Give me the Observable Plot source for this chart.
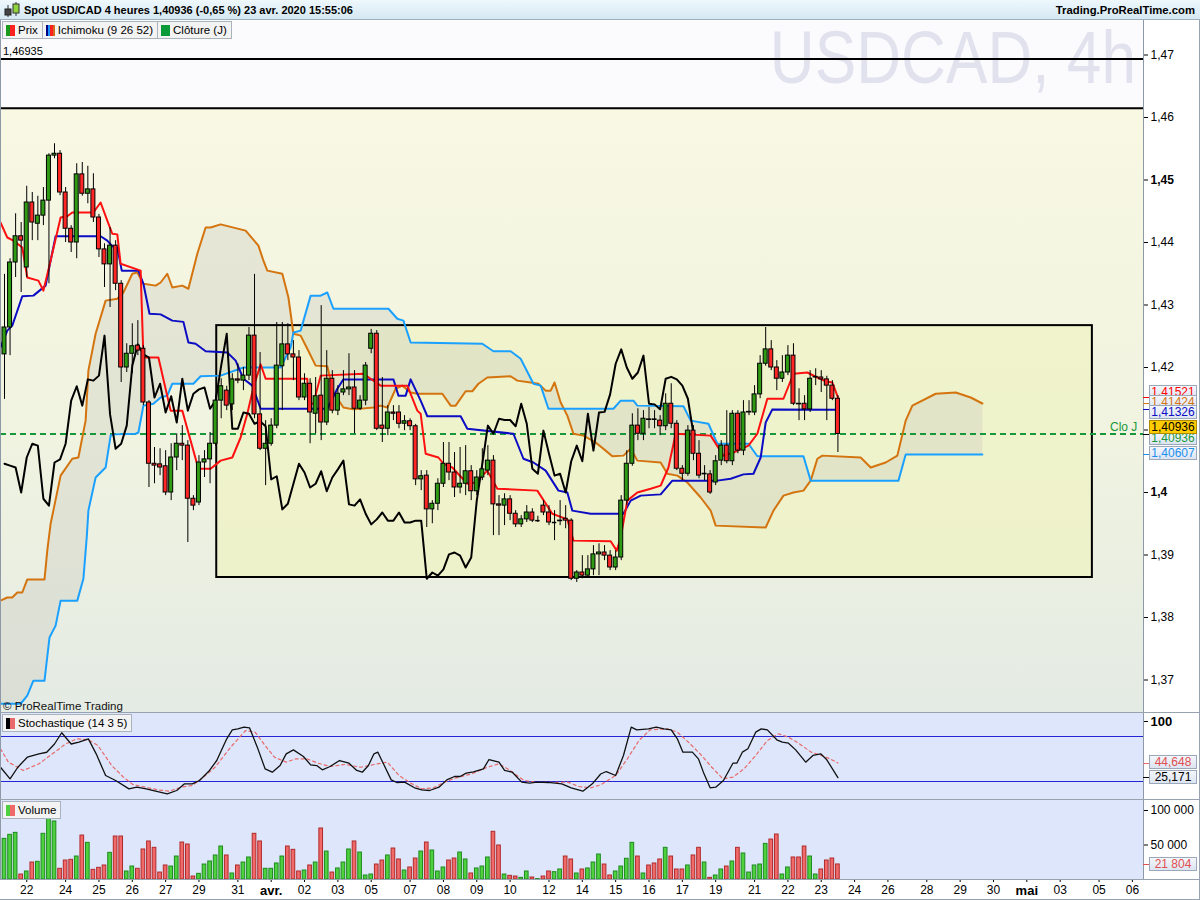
<!DOCTYPE html>
<html><head><meta charset="utf-8">
<script src="https://cdn.jsdelivr.net/npm/d3@7"></script>
<script src="https://cdn.jsdelivr.net/npm/@observablehq/plot@0.6"></script>
<style>
html,body{margin:0;padding:0;background:#fff;}
#root{position:relative;width:1200px;height:900px;overflow:hidden;background:#fff;font-family:"Liberation Sans",Arial,Helvetica,sans-serif;font-size:12px;color:#000;}
.a{position:absolute;}
.a svg{display:block;}
.legrow{position:absolute;display:flex;}
.legend{height:16px;line-height:16px;border:1px solid #a9b3bd;background:#f3f3f3;padding:0 4px 0 3px;font-size:11.5px;white-space:nowrap;margin-right:-1px;}
.sw{display:inline-block;width:9px;height:11px;vertical-align:-2px;margin-right:3px;}
.vbox{position:absolute;left:1149px;width:46px;height:12px;line-height:12px;border:1px solid #9aa8ba;background:linear-gradient(#f4f7fc,#dce4f1);font-size:12px;text-align:center;}
.tk{position:absolute;left:1143px;width:6px;height:1px;}
</style></head>
<body><div id="root"></div>
<script>
// ---------------- DATA ----------------
const title = "Spot USD/CAD 4 heures 1,40936 (-0,65 %) 23 avr. 2020 15:55:06";
const site = "Trading.ProRealTime.com";
const watermark = "USDCAD, 4h";
const legendItems = ["Prix", "Ichimoku (9 26 52)", "Clôture (J)"];

const opens = [1.4221,1.4264,1.4368,1.4410,1.4360,1.4464,1.4430,1.4443,1.4467,1.4539,
1.4542,1.4480,1.4422,1.4400,1.4509,1.4478,1.4485,1.4440,1.4389,1.4365,
1.4395,1.4334,1.4200,1.4222,1.4235,1.4230,1.4144,1.4046,1.4045,1.4042,
1.4000,1.4056,1.4078,1.4075,1.3990,1.3984,1.4048,1.4053,1.4078,1.4147,
1.4163,1.4141,1.4181,1.4179,1.4187,1.4251,1.4125,1.4070,1.4078,1.4107,
1.4202,1.4237,1.4221,1.4216,1.4152,1.4174,1.4126,1.4155,1.4112,1.4182,
1.4131,1.4160,1.4165,1.4168,1.4134,1.4147,1.4230,1.4254,1.4107,1.4102,
1.4128,1.4128,1.4110,1.4114,1.4106,1.4021,1.4027,1.3973,1.3982,1.4014,
1.4046,1.4032,1.4008,1.4014,1.4034,1.4002,1.4024,1.4035,1.4051,1.3981,
1.3979,1.3989,1.3966,1.3949,1.3957,1.3968,1.3955,1.3979,1.3968,1.3952,
1.3954,1.3958,1.3955,1.3862,1.3872,1.3867,1.3877,1.3901,1.3904,1.3899,
1.3880,1.3896,1.3987,1.4046,1.4107,1.4094,1.4117,1.4117,1.4115,1.4106,
1.4142,1.4110,1.4038,1.4030,1.4099,1.4062,1.4029,1.4029,1.4016,1.4051,
1.4075,1.4050,1.4126,1.4067,1.4128,1.4128,1.4157,1.4206,1.4229,1.4200,
1.4182,1.4192,1.4219,1.4142,1.4142,1.4133,1.4184,1.4184,1.4181,1.4171,
1.4150];
const highs = [1.4349,1.4374,1.4446,1.4432,1.4490,1.4480,1.4474,1.4488,1.4542,1.4558,
1.4547,1.4488,1.4427,1.4526,1.4528,1.4522,1.4510,1.4445,1.4398,1.4424,
1.4403,1.4339,1.4238,1.4270,1.4275,1.4235,1.4147,1.4072,1.4070,1.4067,
1.4078,1.4094,1.4107,1.4083,1.3995,1.4059,1.4067,1.4096,1.4155,1.4182,
1.4170,1.4190,1.4206,1.4200,1.4264,1.4349,1.4224,1.4115,1.4118,1.4272,
1.4272,1.4270,1.4243,1.4227,1.4190,1.4182,1.4184,1.4299,1.4227,1.4195,
1.4171,1.4195,1.4222,1.4195,1.4155,1.4208,1.4261,1.4259,1.4184,1.4139,
1.4139,1.4139,1.4123,1.4118,1.4109,1.4035,1.4035,1.3987,1.4022,1.4080,
1.4080,1.4064,1.4072,1.4075,1.4043,1.4035,1.4070,1.4075,1.4059,1.3995,
1.3998,1.3995,1.3971,1.3963,1.3979,1.3974,1.3962,1.3987,1.3979,1.3971,
1.3987,1.3979,1.3958,1.3875,1.3899,1.3899,1.3915,1.3918,1.3915,1.3907,
1.3907,1.3995,1.4067,1.4126,1.4134,1.4131,1.4136,1.4131,1.4123,1.4158,
1.4174,1.4115,1.4043,1.4107,1.4107,1.4083,1.4043,1.4035,1.4059,1.4083,
1.4131,1.4131,1.4131,1.4147,1.4147,1.4171,1.4219,1.4264,1.4243,1.4211,
1.4219,1.4235,1.4238,1.4166,1.4155,1.4195,1.4198,1.4195,1.4186,1.4179,
1.4155];
const lows = [1.4149,1.4219,1.4344,1.4320,1.4344,1.4403,1.4403,1.4427,1.4334,1.4534,
1.4475,1.4400,1.4384,1.4374,1.4474,1.4462,1.4432,1.4376,1.4328,1.4296,
1.4323,1.4176,1.4192,1.4190,1.4219,1.4139,1.4008,1.4014,1.4027,1.3995,
1.3987,1.4035,1.4051,1.3920,1.3971,1.3979,1.4024,1.4014,1.4074,1.4118,
1.4131,1.4131,1.4174,1.4163,1.4179,1.4118,1.4067,1.4011,1.4074,1.4102,
1.4131,1.4211,1.4179,1.4147,1.4147,1.4078,1.4094,1.4083,1.4107,1.4126,
1.4123,1.4155,1.4155,1.4094,1.4131,1.4139,1.4222,1.4099,1.4080,1.4091,
1.4115,1.4102,1.4099,1.4099,1.4011,1.4003,1.3944,1.3950,1.3971,1.4008,
1.4019,1.3992,1.3998,1.3995,1.3987,1.3995,1.4019,1.4027,1.3931,1.3931,
1.3947,1.3955,1.3944,1.3944,1.3952,1.3952,1.3952,1.3963,1.3947,1.3923,
1.3947,1.3942,1.3859,1.3856,1.3862,1.3864,1.3867,1.3867,1.3891,1.3875,
1.3875,1.3891,1.3979,1.4042,1.4083,1.4083,1.4102,1.4102,1.4091,1.4099,
1.4102,1.4035,1.4019,1.4026,1.4051,1.4022,1.4019,1.3997,1.4011,1.4043,
1.4046,1.4043,1.4062,1.4059,1.4123,1.4123,1.4150,1.4202,1.4195,1.4163,
1.4176,1.4187,1.4139,1.4115,1.4115,1.4128,1.4171,1.4160,1.4115,1.4147,
1.4064];
const closes = [1.4264,1.4368,1.4410,1.4403,1.4464,1.4432,1.4443,1.4467,1.4539,1.4542,
1.4480,1.4422,1.4400,1.4509,1.4478,1.4485,1.4440,1.4389,1.4365,1.4395,
1.4334,1.4200,1.4222,1.4234,1.4227,1.4144,1.4046,1.4043,1.4040,1.4000,
1.4056,1.4078,1.4075,1.3990,1.3979,1.4048,1.4053,1.4078,1.4147,1.4170,
1.4139,1.4181,1.4179,1.4187,1.4251,1.4125,1.4070,1.4078,1.4107,1.4203,
1.4237,1.4221,1.4216,1.4152,1.4174,1.4128,1.4154,1.4112,1.4182,1.4131,
1.4158,1.4165,1.4168,1.4134,1.4147,1.4203,1.4254,1.4102,1.4102,1.4128,
1.4126,1.4110,1.4114,1.4106,1.4021,1.4026,1.3973,1.3982,1.4014,1.4046,
1.4032,1.4008,1.4014,1.4034,1.4002,1.4024,1.4037,1.4051,1.3981,1.3979,
1.3989,1.3966,1.3949,1.3957,1.3968,1.3955,1.3955,1.3968,1.3952,1.3952,
1.3955,1.3955,1.3862,1.3872,1.3867,1.3877,1.3901,1.3904,1.3899,1.3880,
1.3896,1.3987,1.4046,1.4107,1.4094,1.4118,1.4116,1.4116,1.4106,1.4142,
1.4110,1.4038,1.4030,1.4099,1.4062,1.4027,1.4030,1.4000,1.4050,1.4075,
1.4050,1.4126,1.4067,1.4128,1.4129,1.4157,1.4206,1.4229,1.4200,1.4182,
1.4192,1.4219,1.4142,1.4141,1.4133,1.4182,1.4185,1.4181,1.4171,1.4150,
1.40936];
// volume in thousands
const volumesK = [58.9,64.7,67.6,7.2,11.6,24.6,25.6,66.2,89.4,84.1,
15.5,27.5,28.5,33.3,63.7,53.1,14.0,16.9,20.3,38.6,
62.3,62.3,11.6,18.8,15.5,43.5,55.1,45.9,10.1,20.3,
18.8,33.3,53.6,50.7,4.3,8.2,21.7,26.1,34.8,47.8,
34.8,8.7,20.3,24.6,31.9,66.2,55.1,15.5,15.5,23.2,
33.3,47.8,43.0,11.6,13.0,20.3,24.6,73.9,40.5,10.1,
16.0,24.6,43.5,55.1,39.1,5.8,7.2,21.7,27.5,34.8,
44.9,29.0,13.0,17.4,30.4,40.5,53.6,42.0,11.6,17.4,
27.5,30.4,39.1,29.0,8.7,16.0,18.8,31.9,69.1,49.3,
7.2,5.3,4.3,2.4,11.6,2.9,0.6,4.3,11.6,10.6,
14.5,33.3,29.0,8.7,14.5,16.0,24.6,36.2,21.7,5.8,
11.6,18.8,30.0,53.1,33.3,8.7,20.3,23.2,29.0,45.9,
33.3,14.5,14.5,20.3,34.8,45.9,24.6,2.4,5.8,14.5,
18.8,26.1,45.9,37.7,10.1,20.3,21.7,51.6,57.9,65.2,
7.2,17.4,31.9,31.9,47.8,33.3,7.2,14.5,27.5,30.4,
21.804];

// Ichimoku lines, read as [bar index, price] vertices
const tenkan = [[-0.72,1.4432],[0.5,1.4408],[1.6,1.4403],[3.2,1.4392],[4.1,1.4344],[6.1,1.4339],[7.0,1.4323],[8.3,1.4371],[10.1,1.4440],[11.3,1.4442],[12.2,1.4448],[16.0,1.4448],[17.3,1.4464],[18.5,1.4435],[19.4,1.4414],[20.3,1.4413],[20.9,1.4366],[24.5,1.4355],[25.0,1.4216],[27.7,1.4216],[29.9,1.4131],[32.0,1.4131],[34.9,1.4038],[37.1,1.4038],[38.9,1.4051],[41.0,1.4056],[42.5,1.4088],[43.7,1.4126],[44.8,1.4168],[46.1,1.4205],[47.0,1.4182],[54.5,1.4182],[54.7,1.4142],[55.6,1.4142],[56.9,1.4187],[64.6,1.4190],[65.9,1.4182],[67.7,1.4171],[72.5,1.4171],[74.3,1.4131],[74.9,1.4126],[75.8,1.4062],[78.1,1.4056],[79.0,1.4046],[80.6,1.4040],[83.3,1.4014],[84.8,1.4016],[86.9,1.4035],[88.7,1.4006],[95.9,1.4003],[98.6,1.3966],[101.3,1.3957],[102.4,1.3923],[109.1,1.3922],[110.2,1.3907],[110.9,1.3928],[112.1,1.3987],[113.9,1.4000],[116.3,1.4006],[118.1,1.4011],[119.5,1.4040],[120.8,1.4094],[127.1,1.4091],[129.4,1.4059],[131.2,1.4064],[133.9,1.4075],[135.5,1.4094],[137.3,1.4150],[140.2,1.4150],[142.0,1.4190],[144.5,1.4192],[146.3,1.4184],[147.8,1.4178],[149.0,1.4176],[150.0,1.41521]];
const kijun = [[-0.72,1.4232],[0.5,1.4259],[1.4,1.4267],[3.2,1.4314],[5.2,1.4315],[7.4,1.4331],[8.3,1.4371],[9.2,1.4410],[17.3,1.4410],[18.5,1.4403],[19.4,1.4394],[20.3,1.4392],[21.1,1.4355],[24.1,1.4355],[25.0,1.4334],[26.1,1.4286],[28.1,1.4285],[30.2,1.4275],[32.2,1.4273],[33.1,1.4240],[34.4,1.4238],[36.2,1.4226],[40.1,1.4224],[41.6,1.4211],[43.0,1.4182],[44.6,1.4171],[46.1,1.4134],[58.1,1.4134],[59.9,1.4166],[61.0,1.4181],[70.0,1.4181],[70.9,1.4155],[72.2,1.4155],[73.1,1.4181],[74.9,1.4147],[76.1,1.4122],[82.1,1.4122],[83.3,1.4102],[91.6,1.4094],[93.4,1.4054],[95.2,1.4048],[97.4,1.4035],[99.7,1.4003],[101.3,1.4000],[102.2,1.3971],[105.5,1.3966],[111.4,1.3966],[112.7,1.3987],[114.5,1.3995],[118.1,1.3997],[120.2,1.4019],[128.3,1.4019],[130.7,1.4022],[133.0,1.4029],[134.8,1.4030],[136.1,1.4056],[137.0,1.4112],[138.2,1.4133],[150.0,1.41326]];
const spanA = [[-0.72,1.3827],[0.5,1.3832],[1.4,1.3832],[2.3,1.3840],[3.2,1.3840],[4.1,1.3861],[7.2,1.3861],[7.7,1.3907],[8.3,1.3950],[10.1,1.4027],[12.2,1.4054],[13.3,1.4056],[14.6,1.4115],[15.1,1.4195],[16.4,1.4254],[18.2,1.4307],[20.3,1.4310],[21.4,1.4320],[23.0,1.4350],[23.9,1.4352],[25.0,1.4334],[27.2,1.4331],[28.1,1.4336],[29.3,1.4350],[30.2,1.4328],[32.0,1.4331],[33.1,1.4326],[34.7,1.4382],[36.2,1.4424],[37.1,1.4424],[38.9,1.4429],[43.4,1.4419],[45.7,1.4395],[46.6,1.4371],[47.3,1.4355],[50.0,1.4350],[51.1,1.4312],[52.0,1.4254],[53.3,1.4251],[54.5,1.4230],[56.0,1.4203],[58.1,1.4202],[59.2,1.4160],[61.0,1.4136],[62.8,1.4133],[66.4,1.4136],[67.7,1.4139],[68.9,1.4136],[70.4,1.4166],[71.6,1.4171],[73.1,1.4160],[74.3,1.4158],[78.8,1.4158],[80.3,1.4139],[81.2,1.4139],[83.0,1.4162],[84.2,1.4162],[85.3,1.4174],[86.9,1.4184],[91.1,1.4186],[92.3,1.4179],[94.7,1.4176],[96.1,1.4174],[97.4,1.4163],[98.3,1.4163],[99.0,1.4176],[100.1,1.4144],[101.3,1.4123],[102.4,1.4094],[104.2,1.4091],[106.4,1.4080],[108.2,1.4067],[109.4,1.4058],[111.4,1.4059],[112.7,1.4070],[113.9,1.4051],[118.1,1.4048],[119.3,1.4030],[121.1,1.4027],[122.9,1.4016],[125.3,1.3992],[127.1,1.3971],[128.0,1.3947],[137.0,1.3944],[138.4,1.3971],[140.2,1.3995],[142.0,1.4000],[143.8,1.4003],[145.1,1.4019],[146.3,1.4054],[147.2,1.4059],[154.1,1.4056],[155.9,1.4040],[158.6,1.4048],[160.7,1.4059],[162.2,1.4115],[163.4,1.4139],[167.6,1.4158],[171.2,1.4160],[173.9,1.4152],[176.0,1.41424]];
const spanB = [[-0.72,1.3662],[2.9,1.3662],[4.1,1.3675],[5.2,1.3699],[7.2,1.3699],[8.1,1.3768],[9.2,1.3787],[10.1,1.3827],[13.1,1.3827],[14.2,1.3862],[14.8,1.3928],[15.1,1.3971],[16.4,1.4024],[18.2,1.4040],[19.1,1.4091],[19.6,1.4093],[23.6,1.4094],[24.1,1.4096],[25.0,1.4139],[26.8,1.4142],[28.1,1.4152],[29.3,1.4155],[30.2,1.4174],[34.0,1.4174],[35.3,1.4186],[38.9,1.4187],[43.0,1.4200],[49.7,1.4200],[51.5,1.4232],[52.0,1.4256],[53.3,1.4259],[55.1,1.4315],[56.9,1.4315],[58.1,1.4320],[59.2,1.4294],[69.1,1.4294],[70.7,1.4278],[71.8,1.4275],[73.1,1.4240],[86.0,1.4238],[88.0,1.4226],[91.1,1.4226],[92.9,1.4214],[95.2,1.4174],[96.5,1.4171],[97.9,1.4134],[109.6,1.4134],[110.9,1.4147],[113.2,1.4147],[113.9,1.4139],[122.2,1.4138],[123.5,1.4115],[126.7,1.4110],[128.3,1.4078],[133.9,1.4078],[135.5,1.4058],[143.8,1.4058],[145.1,1.4019],[160.9,1.4019],[162.2,1.40607],[176.0,1.40607]];
const chikouShift = 26;

// Stochastic (14 3 5): [bar index, value]
const stochK = [[-0.72,39],[1.0,23.6],[2.4,39],[4.1,52.4],[6.2,56.9],[7.6,59],[9.0,70],[10.3,85],[12.0,70],[13.4,72.4],[15.1,76.9],[16.5,56.9],[18.2,28],[20.0,21.3],[22.4,10.2],[23.8,12.4],[25.5,10.2],[27.2,7.1],[29.3,3.6],[31.0,8],[32.4,16.9],[33.8,16.9],[35.1,21.3],[36.9,34.7],[38.2,48],[40.0,76.9],[41.0,88.9],[42.0,90.2],[43.1,92.4],[44.1,91.6],[45.5,65.8],[46.9,36.9],[48.2,32.4],[49.6,41.3],[50.7,56.9],[52.0,62.2],[53.8,53.3],[55.1,42.2],[56.2,41.3],[57.2,35.6],[58.6,40],[60.3,48],[62.0,44.4],[63.4,34.7],[64.4,32.4],[65.5,41.3],[66.5,56.9],[67.2,59.1],[68.2,43.6],[69.6,22.2],[70.6,18.7],[72.0,19.1],[73.8,11.6],[75.1,8.9],[76.5,8],[78.2,12.4],[79.6,22.2],[81.0,26.7],[82.0,26.7],[83.1,31.1],[84.4,32.9],[86.2,36.9],[87.2,49.3],[89.0,45.8],[90.0,34.7],[91.4,32.4],[93.1,19.1],[94.5,17.8],[95.8,19.1],[97.9,18.7],[100.3,16.9],[102.0,11.6],[104.1,7.1],[105.8,16.9],[107.3,30],[108.3,33.3],[110.0,28],[111.4,54.7],[112.8,92.4],[113.8,88.9],[115.9,90.2],[117.3,92.4],[118.7,90.2],[120.0,88.9],[121.1,76.9],[122.1,59.1],[123.8,59.1],[124.9,50.2],[125.9,30.2],[127.0,11.6],[128.0,12.4],[129.4,21.3],[131.1,44.4],[131.8,44.4],[132.8,59.1],[133.8,63.6],[135.2,85.8],[136.2,90.2],[137.3,88.9],[139.0,75.6],[140.0,72.4],[141.1,71.1],[142.4,62.2],[144.2,45.8],[145.5,54.7],[146.9,56.9],[148.0,48.9],[150.0,25.171]];
const stochD = [[-0.72,63.6],[0.7,45.8],[3.4,34.7],[6.2,43.6],[9.0,59],[11.0,70],[13.0,76.9],[15.1,75.6],[16.8,68],[19.3,41.3],[21.4,25.8],[23.1,16],[24.8,13.3],[27.6,8.9],[29.7,7.1],[31.7,12.4],[33.8,14.7],[35.8,25.8],[37.9,39],[40.7,65.8],[43.4,88],[45.1,85.8],[46.9,68],[48.6,52.4],[50.7,45.8],[52.4,50.2],[54.4,50.2],[56.5,44.4],[58.6,40],[61.3,42.7],[64.1,39],[66.5,42.7],[68.9,45.8],[71.0,28],[73.1,17.8],[75.1,10.2],[77.2,11.6],[79.2,19.1],[81.3,24.9],[84.1,30.2],[86.9,39],[89.0,43.6],[91.0,34.7],[93.5,21.3],[95.9,18.7],[101.4,19.1],[103.4,13.3],[105.5,11.6],[107.3,15.5],[110.0,28],[112.1,50.2],[114.2,74.7],[116.2,88.9],[119.3,90.2],[121.1,85.8],[123.1,72.4],[125.2,56.9],[127.3,39],[129.3,23.6],[131.1,25.8],[133.1,36.9],[135.2,54.7],[137.3,74.7],[139.3,83.6],[141.1,79.1],[143.1,70.2],[145.2,59.1],[147.0,54.7],[148.6,50.2],[150.0,44.648]];
const stochLevels = [80, 20];

// reference levels
const hLines = [1.46935, 1.4615];
const dailyClose = 1.40936;
const boxIdx = [38.2, 195.8];
const boxPrice = [1.3864, 1.4267];

// axes
const priceTicks = [1.37,1.38,1.39,1.40,1.41,1.42,1.43,1.44,1.45,1.46,1.47];
const priceTicksBold = [1.40, 1.45];
const dateIdx =    [4,11,17,23,29,35,42,48,54,60,66,73,79,85,91,98,104,110,116,122,128,135,141,147,153,159,166,172,178,184,190,197,203];
const dateLabels = ["22","24","25","26","27","29","31","avr.","02","03","05","07","08","09","10","12","14","15","16","17","19","21","22","23","24","26","28","29","30","mai","03","05","06"];
const dateBold = ["avr.","mai"];
const volTicks = [50000, 100000];

// ---------------- DRAW ----------------
const root = document.getElementById("root");
const FONT = '"Liberation Sans", Arial, Helvetica, sans-serif';
const xDomain = [-0.72, 205.0];
const GREEN = "#2f9a14", RED = "#ff2626";
const fmtC = (v, d) => v.toFixed(d).replace(".", ",");
const fmtTick = v => String(+v.toFixed(2)).replace(".", ",");
const fmtVol = v => d3.format(",")(Math.round(v)).replace(/,/g, " ");

function div(cls, css, html) {
  const e = document.createElement("div");
  e.className = cls; e.style.cssText = css; if (html != null) e.innerHTML = html;
  root.appendChild(e); return e;
}

const bars = opens.map((o, i) => ({i, o, h: highs[i], l: lows[i], c: closes[i], v: volumesK[i] * 1000}));
const up = d => d.c >= d.o;
const chikou = closes.slice(chikouShift).map((c, k) => [k, c]);
const cloudPoly = spanA.concat(spanB.slice().reverse());
const P = d => d[0], V = d => d[1];

// backgrounds
div("a", "left:0;top:20px;width:1143px;height:693px;background:#fbfbfe;");
div("a", "left:0;top:713px;width:1143px;height:87px;background:#dde6fb;");
div("a", "left:0;top:800px;width:1143px;height:79px;background:#dde6fb;");

// watermark (behind the plot)
div("a", `left:536px;top:16px;width:600px;text-align:right;font-family:${FONT};font-size:74px;color:#e2e2ee;white-space:nowrap;transform:scaleX(0.84);transform-origin:right top;line-height:84px;`, watermark);

// MAIN
const main = Plot.plot({
  width: 1200, height: 693, marginLeft: 0, marginRight: 57, marginTop: 0, marginBottom: 0,
  x: {domain: xDomain, axis: null},
  y: {domain: [1.36464, 1.47552], axis: null},
  style: {fontFamily: FONT, fontSize: "12px", background: "transparent", overflow: "visible"},
  marks: [
    Plot.rect([0], {x1: () => xDomain[0], x2: () => xDomain[1], y1: () => 1.36464, y2: () => hLines[1], fill: "url(#mainGrad)"}),
    Plot.rect([0], {x1: () => boxIdx[0], x2: () => boxIdx[1], y1: () => boxPrice[0], y2: () => boxPrice[1], fill: "#eff2c6", fillOpacity: 0.8}),
    Plot.line(cloudPoly, {x: P, y: V, fill: "#c9c9bd", fillOpacity: 0.35, stroke: "none"}),
    Plot.ruleY(hLines, {stroke: "#000", strokeWidth: 2}),
    Plot.rect([0], {x1: () => boxIdx[0], x2: () => boxIdx[1], y1: () => boxPrice[0], y2: () => boxPrice[1], fill: "none", stroke: "#000", strokeWidth: 2}),
    Plot.ruleY([dailyClose], {stroke: "#17983a", strokeWidth: 2, strokeDasharray: "6,4"}),
    Plot.line(spanA, {x: P, y: V, stroke: "#d4740f", strokeWidth: 2}),
    Plot.line(spanB, {x: P, y: V, stroke: "#1aa0ff", strokeWidth: 2}),
    Plot.line(kijun, {x: P, y: V, stroke: "#0c0cc4", strokeWidth: 2}),
    Plot.line(tenkan, {x: P, y: V, stroke: "#ff1010", strokeWidth: 2}),
    Plot.line(chikou, {x: P, y: V, stroke: "#000", strokeWidth: 2}),
    Plot.ruleX(bars, {x: "i", y1: "l", y2: "h", stroke: "#000", strokeWidth: 1}),
    Plot.rect(bars, {x1: d => d.i - 0.36, x2: d => d.i + 0.36, y1: "o", y2: "c", fill: d => up(d) ? GREEN : RED, stroke: "#000", strokeWidth: 1}),
    Plot.ruleY(bars.filter(d => Math.abs(d.c - d.o) < 0.00005), {y: "c", x1: d => d.i - 0.4, x2: d => d.i + 0.4, stroke: "#000", strokeWidth: 1.5}),
    Plot.axisY({anchor: "right", label: null, ticks: priceTicks.filter(t => !priceTicksBold.includes(t)), tickFormat: fmtTick, tickSize: 4, tickPadding: 3, fontSize: 12}),
    Plot.axisY({anchor: "right", label: null, ticks: priceTicksBold, tickFormat: fmtTick, tickSize: 4, tickPadding: 3, fontSize: 12, fontWeight: "bold"})
  ]
});
const defs = d3.select(main).insert("defs", ":first-child");
const g = defs.append("linearGradient").attr("id", "mainGrad").attr("x1", 0).attr("y1", 0).attr("x2", 0).attr("y2", 1);
g.append("stop").attr("offset", "0%").attr("stop-color", "#f8f8e3");
g.append("stop").attr("offset", "55%").attr("stop-color", "#f0f3e0");
g.append("stop").attr("offset", "100%").attr("stop-color", "#e4ebe4");
div("a", "left:0;top:20px;").appendChild(main);

// STOCHASTIC
const stoch = Plot.plot({
  width: 1200, height: 87, marginLeft: 0, marginRight: 57, marginTop: 0, marginBottom: 0,
  x: {domain: xDomain, axis: null},
  y: {domain: [-5.33, 110.67], axis: null},
  style: {fontFamily: FONT, fontSize: "12px", background: "transparent", overflow: "visible"},
  marks: [
    Plot.ruleY(stochLevels, {stroke: "#2424d4", strokeWidth: 1.2}),
    Plot.line(stochD, {x: P, y: V, stroke: "#e86a6a", strokeWidth: 1.2, strokeDasharray: "3,3"}),
    Plot.line(stochK, {x: P, y: V, stroke: "#111", strokeWidth: 1.3}),
    Plot.axisY({anchor: "right", label: null, ticks: [100], tickFormat: d => String(d), tickSize: 4, tickPadding: 3, fontSize: 13, fontWeight: "bold"})
  ]
});
div("a", "left:0;top:713px;").appendChild(stoch);

// VOLUME
const vol = Plot.plot({
  width: 1200, height: 100, marginLeft: 0, marginRight: 57, marginTop: 0, marginBottom: 21,
  x: {domain: xDomain, axis: null},
  y: {domain: [0, 100000], range: [79, 10], axis: null},
  style: {fontFamily: FONT, fontSize: "12px", background: "transparent", overflow: "visible"},
  marks: [
    Plot.rect(bars, {x1: d => d.i - 0.33, x2: d => d.i + 0.33, y1: () => 0, y2: "v",
      fill: d => up(d) ? "#4fd13f" : "#f06a6a", stroke: d => up(d) ? "#1d8a1d" : "#b02a2a", strokeWidth: 1}),
    Plot.axisY({anchor: "right", label: null, ticks: volTicks, tickFormat: fmtVol, tickSize: 4, tickPadding: 3, fontSize: 12}),
    Plot.axisX({anchor: "bottom", label: null, ticks: dateIdx.filter((d, k) => !dateBold.includes(dateLabels[k])),
      tickFormat: i => dateLabels[dateIdx.indexOf(i)], tickSize: 3, tickPadding: 3, fontSize: 12}),
    Plot.axisX({anchor: "bottom", label: null, ticks: dateIdx.filter((d, k) => dateBold.includes(dateLabels[k])),
      tickFormat: i => dateLabels[dateIdx.indexOf(i)], tickSize: 3, tickPadding: 3, fontSize: 13, fontWeight: "bold"})
  ]
});
div("a", "left:0;top:800px;").appendChild(vol);

// borders
div("a", "left:0;top:20px;width:1px;height:860px;background:#8d99a6;");
div("a", "left:1143px;top:20px;width:1px;height:860px;background:#8d99a6;");
div("a", "left:0;top:712px;width:1200px;height:1px;background:#97a3af;");
div("a", "left:0;top:799px;width:1200px;height:1px;background:#97a3af;");
div("a", "left:0;top:879px;width:1200px;height:1px;background:#97a3af;");
div("a", "left:0;top:899px;width:1200px;height:1px;background:#97a3af;");
div("a", "left:1199px;top:0;width:1px;height:900px;background:#97a3af;");

// header
div("a", "left:0;top:0;width:1200px;height:19px;background:linear-gradient(#eef8fd,#d5e8f2);border-bottom:1px solid #9fb0bd;");
div("a", "left:3px;top:2px;", '<svg width="18" height="16"><line x1="5" y1="3" x2="5" y2="15" stroke="#333"/><rect x="2" y="7" width="6" height="6" fill="#444" stroke="#222"/><line x1="13" y1="0" x2="13" y2="14" stroke="#333"/><rect x="10" y="2" width="6" height="9" fill="#8fd43a" stroke="#333"/></svg>');
div("a", "left:24px;top:0;height:19px;line-height:20px;font-weight:bold;font-size:11px;white-space:nowrap;", title);
div("a", "right:5px;top:0;height:19px;line-height:20px;font-weight:bold;font-size:11.3px;white-space:nowrap;", site);

// legends
const sw = (bg) => `<span class="sw" style="background:${bg}"></span>`;
const row = div("legrow", "left:2px;top:21px;");
row.innerHTML =
  `<div class="legend">${sw("linear-gradient(90deg,#1a9a1a 50%,#ff2020 50%)")}${legendItems[0]}</div>` +
  `<div class="legend">${sw("linear-gradient(90deg,#000080 25%,#1e90ff 25%,#1e90ff 50%,#ff2020 50%,#ff2020 75%,#d2691e 75%)")}${legendItems[1]}</div>` +
  `<div class="legend">${sw("#0a9a3a")}${legendItems[2]}</div>`;
div("legrow", "left:2px;top:714px;", `<div class="legend">${sw("linear-gradient(90deg,#000 50%,#e86a6a 50%)")}Stochastique (14 3 5)</div>`);
div("legrow", "left:2px;top:801px;", `<div class="legend">${sw("linear-gradient(90deg,#4fd13f 50%,#f06a6a 50%)")}Volume</div>`);
div("a", "left:3px;top:45px;font-size:11px;", fmtC(hLines[0], 5));
div("a", "left:3px;top:700px;font-size:11.5px;color:#111;", "© ProRealTime Trading");
div("a", "left:1110px;top:420px;font-size:12px;color:#17983a;", "Clo J");

// right value labels (main)
const ys = main.scale("y");
const lastVals = [
  {v: tenkan[tenkan.length - 1][1], color: "#ff0000", top: 385},
  {v: spanA[spanA.length - 1][1], color: "#d4740f", top: 395},
  {v: kijun[kijun.length - 1][1], color: "#0c0cc4", top: 405},
  {v: dailyClose, color: "#17983a", top: 431},
  {v: closes[closes.length - 1], color: "#000", top: 420, bg: "#ffcc00"},
  {v: spanB[spanB.length - 1][1], color: "#1a90ee", top: 446}
];
for (const L of lastVals) {
  div("tk", `top:${Math.round(20 + ys.apply(L.v))}px;background:${L.color === "#17983a" ? "#000" : L.color};`);
}
for (const L of lastVals) {
  div("vbox", `top:${L.top}px;color:${L.color};${L.bg ? "background:" + L.bg + ";border-color:#b08a00;" : ""}`, fmtC(L.v, 5));
}
// stochastic labels
const ss = stoch.scale("y");
const kLast = stochK[stochK.length - 1][1], dLast = stochD[stochD.length - 1][1];
div("tk", `top:${Math.round(713 + ss.apply(dLast))}px;background:#e86a6a;`);
div("tk", `top:${Math.round(713 + ss.apply(kLast))}px;background:#000;`);
div("vbox", "top:755px;color:#e05050;", fmtC(dLast, 3));
div("vbox", "top:770px;color:#000;", fmtC(kLast, 3));
// volume label
const vs = vol.scale("y");
const vLast = bars[bars.length - 1].v;
div("tk", `top:${Math.round(800 + vs.apply(vLast))}px;background:#e05050;`);
div("vbox", `top:${Math.round(800 + vs.apply(vLast)) - 7}px;color:#e05050;`, fmtVol(vLast));
</script></body></html>
